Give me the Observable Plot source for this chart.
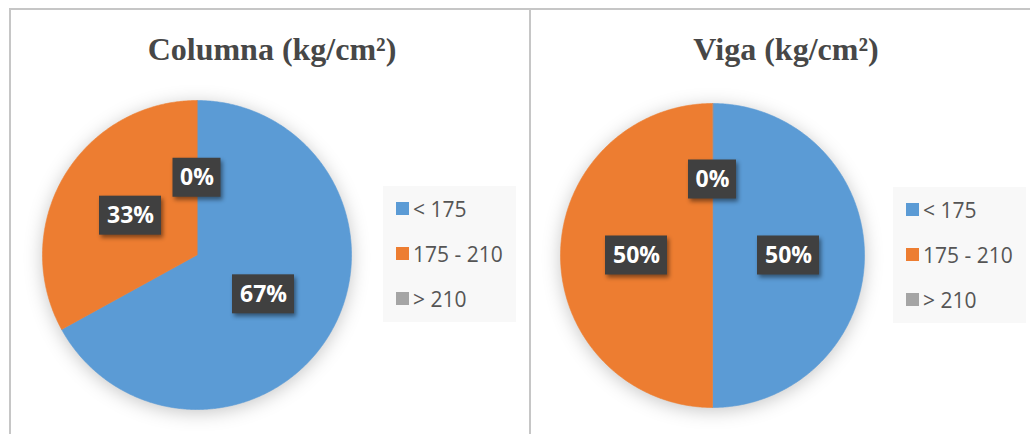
<!DOCTYPE html>
<html>
<head>
<meta charset="utf-8">
<script src="https://cdn.jsdelivr.net/npm/d3@7"></script>
<script src="https://cdn.jsdelivr.net/npm/@observablehq/plot@0.6"></script>
<style>
  body { margin: 0; background: #fff; }
  #chart { position: relative; width: 1030px; height: 434px; overflow: hidden; background: #fff; }
  .rule { position: absolute; background: #c6c6c6; }
  .title { position: absolute; width: 400px; text-align: center; white-space: nowrap;
           font: bold 32px/32px "Liberation Serif", "Times New Roman", serif; color: #474747; }
  .pie { position: absolute; }
  .pie svg { overflow: visible; }
  .key { position: absolute; width: 133px; height: 136px; background: #f8f8f8; }
  .pie-key-swatches { font-family: "Open Sans", sans-serif; font-size: 21px; color: #555555;
                      margin: 0; padding-left: 13px; }
  .pie-key-swatch { height: 45px; padding-bottom: 0; }
  .pie-key-swatch > svg { margin-right: 4px; }
</style>
</head>
<body>
<div id="chart"></div>
<script>
// Resistance classes (kg/cm²) and their share, per structural element
const categories = ["< 175", "175 - 210", "> 210"];
const colors = ["#5B9BD5", "#ED7D31", "#A5A5A5"];
const columnaValues = [67, 33, 0];
const vigaValues = [50, 50, 0];
const titles = ["Columna (kg/cm²)", "Viga (kg/cm²)"];

// Panel layout: title centre, pie centre / radius, legend box corner
const panels = [
  {title: titles[0], values: columnaValues, titleX: 272, cx: 196, cy: 254, r: 154.5, keyX: 383, keyY: 186},
  {title: titles[1], values: vigaValues, titleX: 786, cx: 712, cy: 255, r: 152, keyX: 893, keyY: 187}
];

const chart = document.getElementById("chart");

function rule(left, top, width, height) {
  const d = document.createElement("div");
  d.className = "rule";
  Object.assign(d.style, {left: left + "px", top: top + "px", width: width + "px", height: height + "px"});
  chart.appendChild(d);
}
rule(9, 8, 1021, 2);
rule(9, 8, 2, 426);
rule(529, 8, 2, 426);

// Slice outlines (unit circle, 12 o'clock, clockwise) and label anchors
function slices(values) {
  const arcs = d3.pie().sort(null).value(d => d)(values);
  const outline = [];
  const labels = [];
  arcs.forEach((a, i) => {
    const category = categories[i];
    const mid = (a.startAngle + a.endAngle) / 2;
    labels.push({category, value: values[i], x: 0.5 * Math.sin(mid), y: 0.5 * Math.cos(mid)});
    if (a.endAngle - a.startAngle <= 0) return;
    outline.push({category, x: 0, y: 0});
    const n = Math.max(2, Math.ceil((a.endAngle - a.startAngle) / (Math.PI / 360)));
    for (let k = 0; k <= n; k++) {
      const t = a.startAngle + (a.endAngle - a.startAngle) * k / n;
      outline.push({category, x: Math.sin(t), y: Math.cos(t)});
    }
  });
  return {outline, labels};
}

panels.forEach(p => {
  const title = document.createElement("div");
  title.className = "title";
  title.style.left = (p.titleX - 200) + "px";
  title.style.top = "32.7px";
  title.textContent = p.title;
  chart.appendChild(title);

  const size = p.r * 2;
  const {outline, labels} = slices(p.values);
  const text = d => `${d.value}%`;
  const halfW = d => (20 + 14 * text(d).length) / 2 / p.r;
  const halfH = 19.5 / p.r;

  const svg = Plot.plot({
    width: size,
    height: size,
    margin: 0,
    x: {domain: [-1, 1], axis: null},
    y: {domain: [-1, 1], axis: null},
    color: {type: "ordinal", domain: categories, range: colors},
    style: {overflow: "visible", background: "transparent"},
    marks: [
      Plot.line(outline, {x: "x", y: "y", z: "category", fill: "category", stroke: "category",
                          strokeWidth: 0.6, curve: "linear-closed"}),
      Plot.rect(labels, {x1: d => d.x - halfW(d), x2: d => d.x + halfW(d),
                         y1: d => d.y - halfH, y2: d => d.y + halfH, fill: "#404040"}),
      Plot.text(labels, {x: "x", y: "y", text, fill: "white", fontSize: 23, fontWeight: "bold",
                         fontFamily: "Open Sans"})
    ]
  });
  d3.select(svg).selectAll('g[aria-label="line"]').style("filter", "drop-shadow(0 3px 9px rgba(0,0,0,0.22))");
  d3.select(svg).selectAll('g[aria-label="rect"]').style("filter", "drop-shadow(2px 3px 2px rgba(0,0,0,0.45))");

  const holder = document.createElement("div");
  holder.className = "pie";
  holder.style.left = (p.cx - p.r) + "px";
  holder.style.top = (p.cy - p.r) + "px";
  holder.appendChild(svg);
  chart.appendChild(holder);

  const key = document.createElement("div");
  key.className = "key";
  key.style.left = p.keyX + "px";
  key.style.top = p.keyY + "px";
  key.appendChild(Plot.legend({
    color: {type: "ordinal", domain: categories, range: colors},
    legend: "swatches",
    columns: 1,
    swatchSize: 13,
    className: "pie-key"
  }));
  chart.appendChild(key);
});
</script>
</body>
</html>
